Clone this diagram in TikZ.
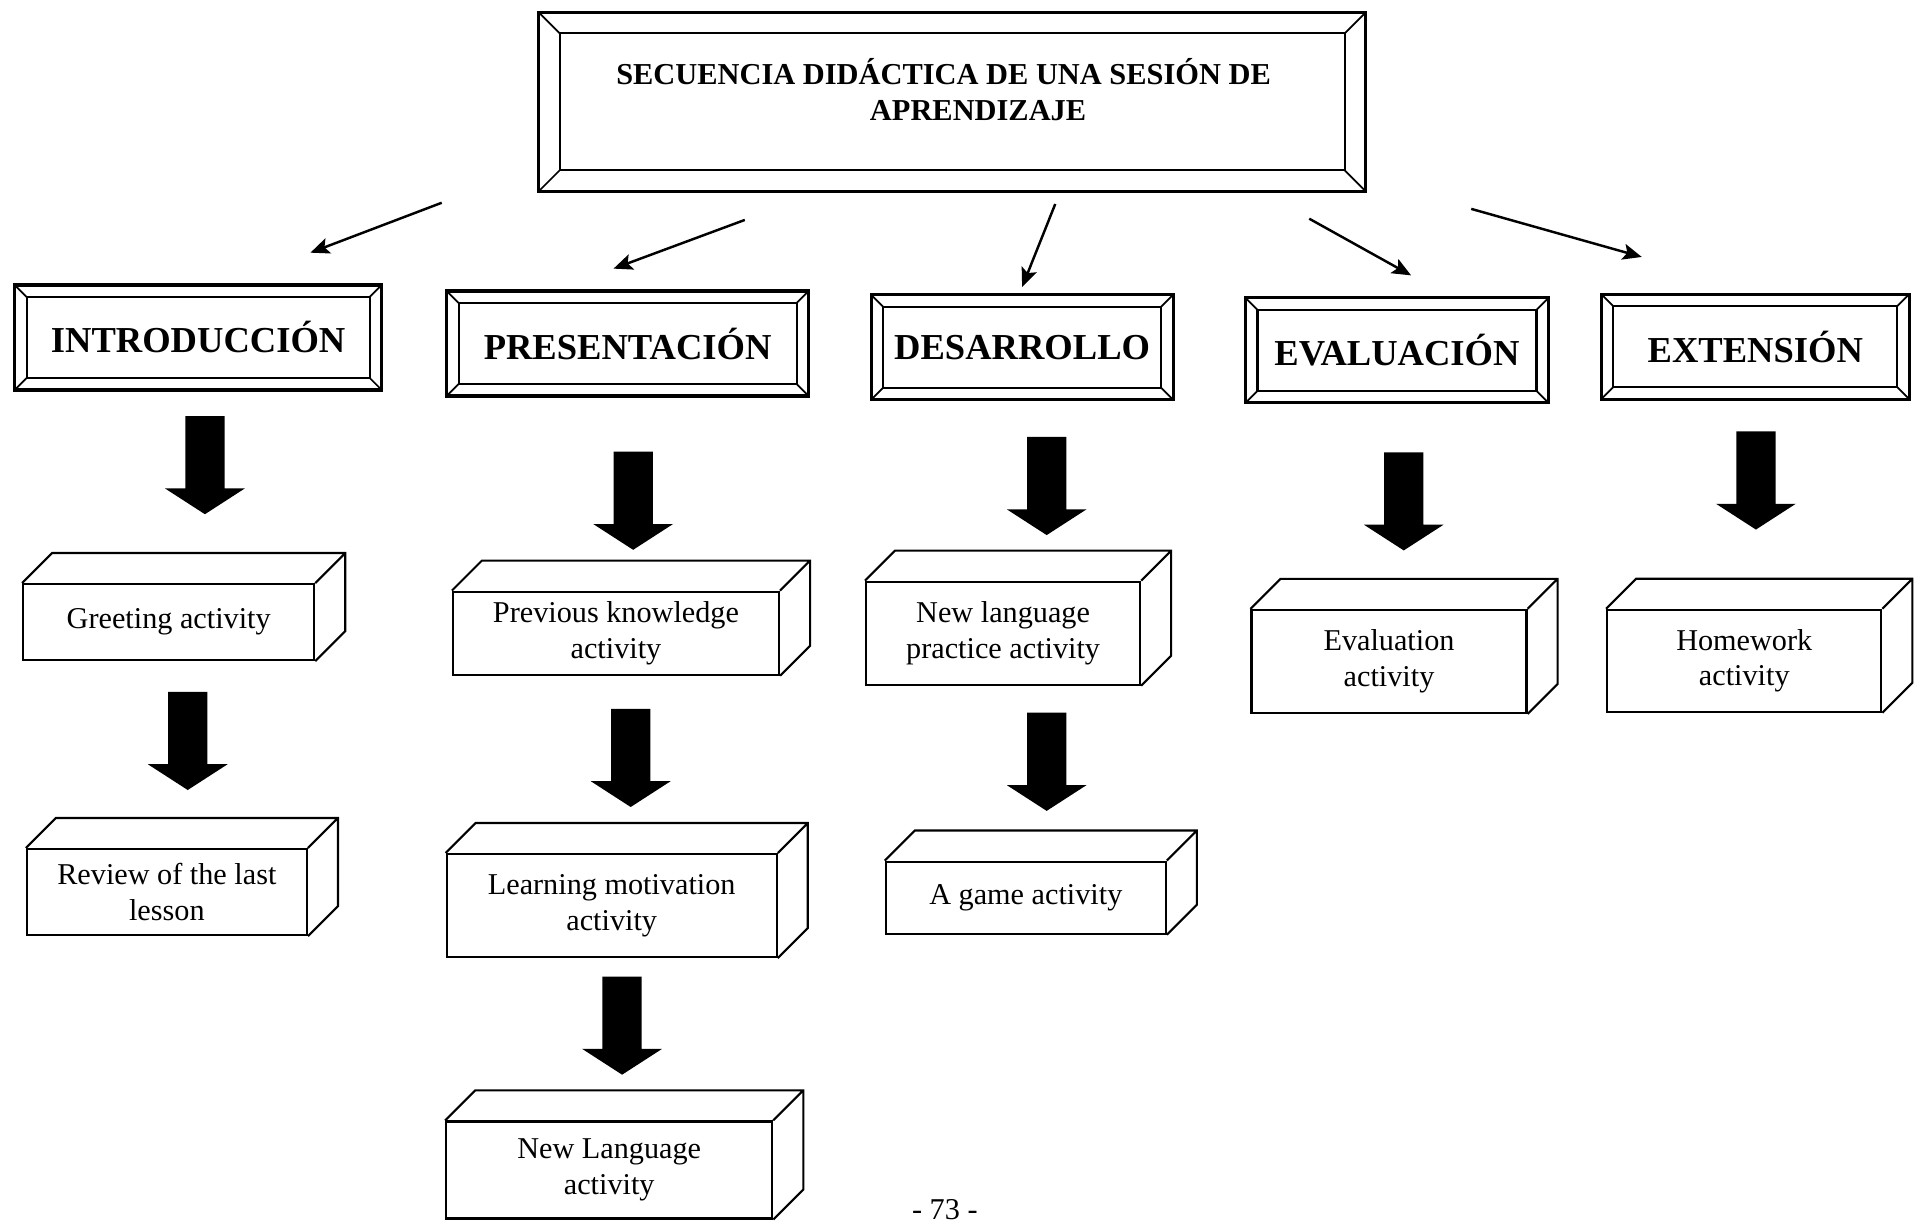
\documentclass[tikz,border=0pt]{standalone}
\usepackage{fontspec}
\setmainfont{Liberation Serif}
\usetikzlibrary{arrows.meta}
\usetikzlibrary{positioning}
\newcommand{\bevelframe}[1]{%
  \draw [line width=0.6pt] ([shift={(#1,-#1)}]path picture bounding box.north west)
    rectangle ([shift={(-#1,#1)}]path picture bounding box.south east);
  \draw [line width=0.5pt] (path picture bounding box.north west) -- ++(#1,-#1)
    (path picture bounding box.north east) -- ++(-#1,-#1)
    (path picture bounding box.south west) -- ++(#1,#1)
    (path picture bounding box.south east) -- ++(-#1,#1);}
\tikzset{bevel/.style = {draw, line width=0.9pt, inner sep=0, path picture={\bevelframe{#1}}}}
\tikzset{stage/.style = {bevel=1.2mm, minimum height=10.5mm,
                         font=\fontsize{10.4}{12}\selectfont\bfseries}}
\tikzset{crate/.style = {draw, line width=0.6pt, align=center, inner sep=0,
                         font=\fontsize{8.6}{10.1}\selectfont}}
\tikzset{thinarrow/.style = {line width=0.7pt, -{Stealth[length=1.9mm, width=1.6mm, inset=0.4mm]}}}

\begin{document}
\begin{tikzpicture}[x=0.1227mm, y=-0.1227mm]
    \useasboundingbox (0, 0) rectangle (1568, 998);

    \node [bevel=2.1mm, minimum width=82.7mm, minimum height=17.9mm] (title) at (776, 83) {};
    \node [font=\fontsize{8.65}{10.4}\selectfont\bfseries, align=center] (titletext) at (769, 73)
      {SECUENCIA DIDÁCTICA DE UNA SESIÓN DE\\\hspace*{6.9mm}APRENDIZAJE};

    \node [stage, minimum width=36.7mm] (intro) at (161.5, 275) {INTRODUCCIÓN};
    \node [stage, minimum width=36.2mm] (pres) at (511.5, 280) {PRESENTACIÓN};
    \node [stage, minimum width=30.2mm] (des) at (833, 283) {DESARROLLO};
    \node [stage, minimum width=30.3mm] (eval) at (1138.5, 285.5) {EVALUACIÓN};
    \node [stage, minimum width=30.8mm] (ext) at (1430.5, 282.5) {EXTENSIÓN};

    \draw [thinarrow] ([shift={(-416, 8)}]title.south) -- ([shift={(91.5, -25)}]intro.north);
    \draw [thinarrow] ([shift={(-169, 22)}]title.south) -- ([shift={(-11.5, -17)}]pres.north);
    \draw [thinarrow] ([shift={(84, 9)}]title.south) -- ([shift={(0, -5)}]des.north);
    \draw [thinarrow] ([shift={(291, 21)}]title.south) -- ([shift={(11.5, -17)}]eval.north);
    \draw [thinarrow] ([shift={(423, 13)}]title.south) -- ([shift={(-92.5, -29)}]ext.north);

    \node [crate, minimum width=29.1mm, minimum height=7.6mm] (greet) at (137.5, 507) {Greeting activity};
    \node [crate, minimum width=28mm, minimum height=8.6mm] (review) at (136, 727) {Review of the last\\lesson};
    \node [crate, minimum width=32.6mm, minimum height=8.3mm] (prevk) at (502, 516) {Previous knowledge\\activity};
    \node [crate, minimum width=33mm, minimum height=10.3mm] (learn) at (498.5, 738) {Learning motivation\\activity};
    \node [crate, minimum width=32.6mm, minimum height=9.7mm] (newlang) at (496.5, 953.5) {New Language\\activity};
    \node [crate, minimum width=27.4mm, minimum height=10.3mm] (practice) at (817.5, 516) {New language\\practice activity};
    \node [crate, minimum width=28mm, minimum height=7.2mm] (game) at (836, 731.5) {A game activity};
    \node [crate, minimum width=27.5mm, minimum height=10.3mm] (evalact) at (1132, 539) {Evaluation\\activity};
    \node [crate, minimum width=27.4mm, minimum height=10.2mm] (homework) at (1421.5, 538.5) {Homework\\activity};

    % top and side faces of the boxes
    \foreach \b in {greet, review, prevk, learn, newlang, practice, game, evalact, homework}
      \draw [line width=0.6pt] (\b.north west) -- ++(3mm, 3mm) -| ([shift={(3mm, 3mm)}]\b.south east)
        -- (\b.south east) (\b.north east) -- ++(3mm, 3mm);

    % fat arrows down each column
    \foreach \from/\dx/\gap in {intro/5.5/20, greet/15.5/25, pres/4.5/44, prevk/12/27, learn/8.5/15,
                                des/20/29, practice/35.5/22, eval/5.5/39, ext/0.5/25}
      \fill (\from.south) ++(\dx, \gap) ++(-16, 0) -- ++(32, 0) -- ++(0, 59) -- ++(16.5, 0)
        -- ++(-32.5, 21) -- ++(-32.5, -21) -- ++(16.5, 0) -- cycle;

    \node [font=\fontsize{8.6}{10}\selectfont] (page) at (770, 986) {- 73 -};
  \end{tikzpicture}
\end{document}
